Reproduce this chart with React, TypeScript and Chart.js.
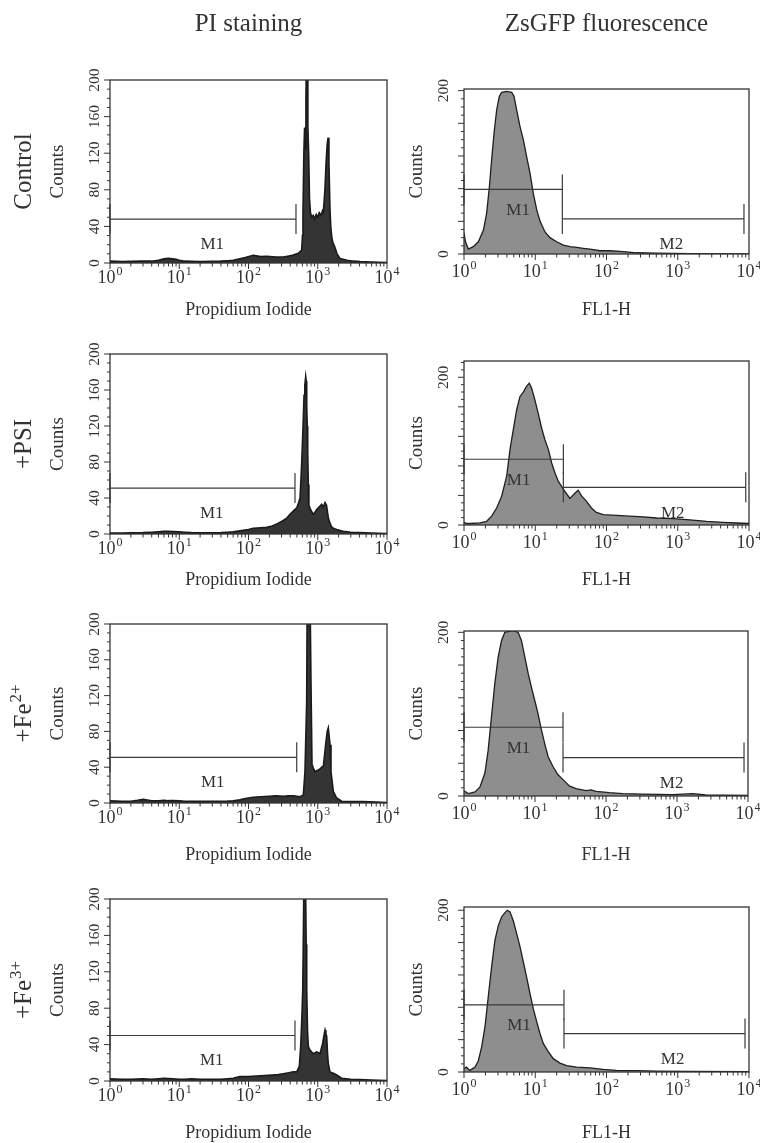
import React, { useEffect, useRef } from 'react';
import { Chart, registerables } from 'chart.js';

Chart.register(...registerables);

const FONT = '"Liberation Serif", "Times New Roman", serif';
const INK = '#333333';

// ---------- Data (channel value, counts) ----------
const piControlX = [1, 1.5, 2, 3, 4, 5, 6, 7, 8, 9, 10, 12, 15, 20, 30, 40, 50, 60, 75, 90, 117, 150, 183, 250, 318, 380, 444, 524, 586, 602, 612, 630, 645, 660, 675, 690, 705, 720, 740, 760, 785, 820, 860, 900, 950, 1000, 1050, 1110, 1170, 1203, 1270, 1320, 1370, 1410, 1450, 1500, 1540, 1600, 1660, 1775, 1900, 2094, 2645, 3300, 4074, 6000, 10000];
const piControlY = [2, 1.5, 1.8, 2, 2, 3, 4.5, 5, 4.5, 4, 3, 2, 1.8, 1.5, 1.8, 2, 2.5, 3, 4.7, 6, 8.4, 7, 7.3, 6.5, 6.6, 7.5, 8.7, 10.6, 14, 30, 55, 120, 148, 125, 180, 240, 240, 150, 118, 70, 55, 50, 52, 48, 53, 50, 55, 52, 57, 55, 80, 110, 130, 137, 110, 60, 40, 27, 22, 17, 10, 5, 3, 2, 1.5, 1, 0.5];

const piPsiX = [1, 1.5, 2, 3, 4, 5, 6, 7, 8, 10, 12, 15, 20, 30, 40, 50, 60, 75, 100, 117, 150, 183, 220, 255, 318, 360, 398, 450, 497, 530, 555, 580, 600, 620, 634, 650, 670, 682, 693, 705, 716, 730, 745, 780, 815, 860, 912, 960, 1018, 1080, 1139, 1200, 1274, 1340, 1420, 1500, 1586, 1700, 1880, 2100, 2335, 3000, 4000, 6000, 10000];
const piPsiY = [1, 1, 1.2, 1.5, 2, 2.5, 3, 3, 2.8, 2.5, 2, 1.5, 1.2, 1.2, 1.5, 2, 2.5, 3.7, 5, 6.3, 7, 7.4, 9, 11, 15, 18, 22, 26, 29, 35, 40, 70, 99, 130, 154, 165, 175, 170, 143, 120, 91, 55, 32, 28, 25, 22, 24, 27, 29, 31, 33, 30, 35, 32, 18, 12, 8, 6, 5, 4, 3, 2, 1.5, 1, 0.5];

const piFe2X = [1, 1.5, 2, 2.5, 3, 4, 5, 6, 7, 8, 10, 12, 15, 20, 30, 40, 50, 60, 75, 90, 117, 150, 200, 250, 318, 380, 444, 500, 555, 619, 654, 692, 705, 716, 745, 772, 798, 826, 863, 912, 965, 1020, 1077, 1140, 1203, 1260, 1316, 1370, 1420, 1460, 1503, 1553, 1678, 1875, 2217, 3000, 4500, 7000, 10000];
const piFe2Y = [2.5, 2, 2, 3, 4, 2.5, 2.5, 3, 2.6, 2.6, 2.5, 2, 1.8, 1.8, 2, 2, 2.2, 2.5, 3.5, 5, 6.5, 7, 7.5, 8, 7.4, 8, 8, 7.5, 7, 9, 35, 113, 240, 240, 240, 240, 136, 43, 39, 35, 36, 37, 38, 40, 41, 55, 69, 80, 84, 75, 65, 35, 13, 5.6, 2, 1.5, 1.5, 1, 0.5];

const piFe3X = [1, 1.5, 2, 3, 4, 5, 6, 8, 10, 12, 15, 20, 30, 40, 50, 60, 75, 100, 130, 170, 220, 270, 318, 380, 444, 497, 542, 567, 590, 607, 620, 634, 663, 680, 693, 712, 731, 772, 815, 863, 915, 965, 1020, 1077, 1175, 1230, 1274, 1310, 1346, 1385, 1420, 1503, 1678, 1875, 2217, 3000, 4000, 6000, 10000];
const piFe3Y = [2.5, 2, 2, 2.5, 2, 2.5, 3, 2.5, 2, 2, 2.5, 2, 2, 2, 2.5, 3, 4.8, 5, 5.5, 6, 6.5, 7, 8, 9, 10, 10, 16, 38, 70, 100, 160, 240, 240, 150, 100, 55, 38, 34, 32, 30, 31, 32, 31, 30, 41, 50, 56, 52, 49, 30, 19, 10, 8.5, 6.6, 3, 2, 1.5, 1, 0.5];

const gfpControlX = [1, 1.05, 1.15, 1.35, 1.59, 1.87, 2.08, 2.27, 2.44, 2.64, 2.87, 3.13, 3.38, 3.97, 4.67, 5.03, 5.49, 6.11, 6.8, 7.58, 8.44, 9.4, 10.5, 11.7, 13.7, 16.1, 20, 24.8, 30.7, 38.1, 47.3, 58.7, 81, 112, 172, 265, 507, 1480, 10000];
const gfpControlY = [26, 15, 6, 9, 15, 29, 50, 82, 115, 148, 176, 193, 198, 199, 198, 193, 176, 156, 140, 119, 99, 74, 54, 40, 27, 20, 15, 11, 9, 8, 7, 6, 4, 4, 3, 1.5, 1, 0.5, 0];

const gfpPsiX = [1, 1.1, 1.21, 1.68, 2.08, 2.44, 2.87, 3.38, 3.97, 4.42, 4.92, 5.49, 6.11, 6.8, 7.58, 8.25, 8.9, 9.9, 11.0, 12.3, 13.7, 15.3, 17.0, 19.0, 21.1, 23.5, 26.2, 30.7, 36, 40, 45, 52.5, 61.5, 72, 90, 138, 213, 330, 507, 870, 1480, 2540, 4350, 6770, 10000];
const gfpPsiY = [3.6, 2, 2, 3, 5, 12, 23, 39, 66, 102, 129, 156, 174, 180, 188, 192, 185, 169, 151, 131, 115, 102, 84, 70, 59, 52, 45, 36, 43, 47, 39, 32, 23, 17, 14, 13, 12, 11, 9.5, 8.5, 7, 5, 3.6, 2.7, 2];

const gfpFe2X = [1, 1.05, 1.15, 1.43, 1.68, 1.97, 2.19, 2.44, 2.72, 3.03, 3.38, 3.76, 4.19, 4.92, 5.78, 6.44, 7.18, 8.0, 8.9, 9.9, 11.0, 12.3, 13.7, 15.3, 17.9, 21.1, 24.8, 30.7, 38, 52.5, 62, 72, 112, 172, 330, 870, 1660, 2540, 10000];
const gfpFe2Y = [6.5, 5, 3, 5, 11, 28, 56, 97, 138, 170, 190, 200, 201, 202, 200, 190, 170, 150, 133, 117, 101, 81, 64, 48, 36, 26, 20, 12, 9, 6.5, 7.5, 5.7, 4, 3, 2.4, 1.6, 3, 1.2, 0.8];

const gfpFe3X = [1, 1.08, 1.21, 1.43, 1.59, 1.77, 1.97, 2.19, 2.44, 2.72, 3.03, 3.38, 3.76, 4.06, 4.42, 4.92, 5.49, 6.11, 6.8, 7.58, 8.44, 9.4, 10.5, 11.7, 13.0, 15.3, 17.9, 22.2, 27.6, 38, 58.7, 90, 138, 265, 507, 1480, 10000];
const gfpFe3Y = [4, 6, 2, 6, 14, 31, 56, 93, 130, 163, 181, 192, 197, 200, 198, 187, 171, 155, 136, 117, 97, 78, 62, 47, 35, 25, 16.5, 11, 8, 6, 5, 3.3, 2, 1.6, 1.2, 0.8, 0.4];

// Gates (marker label, from, to, counts level)
const piControlGates = [{ label: 'M1', from: 1, to: 485, level: 48 }];
const piPsiGates = [{ label: 'M1', from: 1, to: 469, level: 51 }];
const piFe2Gates = [{ label: 'M1', from: 1, to: 497, level: 51 }];
const piFe3Gates = [{ label: 'M1', from: 1, to: 469, level: 50 }];
const gfpControlGates = [{ label: 'M1', from: 1, to: 24, level: 79 }, { label: 'M2', from: 24, to: 8500, level: 43 }];
const gfpPsiGates = [{ label: 'M1', from: 1, to: 24.8, level: 89 }, { label: 'M2', from: 24.8, to: 9000, level: 51 }];
const gfpFe2Gates = [{ label: 'M1', from: 1, to: 24.8, level: 84 }, { label: 'M2', from: 24.8, to: 8790, level: 47 }];
const gfpFe3Gates = [{ label: 'M1', from: 1, to: 25.3, level: 83 }, { label: 'M2', from: 25.3, to: 8790, level: 47.5 }];

// Tick labels
const piYTicks = [0, 40, 80, 120, 160, 200];
const gfpYTicks = [0, 200];
const xTickExponents = [0, 1, 2, 3, 4];

const columnTitles = ['PI staining', 'ZsGFP fluorescence'];
const rowLabels = [
  { base: 'Control', sup: '' },
  { base: '+PSI', sup: '' },
  { base: '+Fe', sup: '2+' },
  { base: '+Fe', sup: '3+' },
];
const piAxisTitle = 'Propidium Iodide';
const gfpAxisTitle = 'FL1-H';
const yAxisTitle = 'Counts';

// ---------- Layout ----------
type Gate = { label: string; from: number; to: number; level: number };
type Box = { left: number; top: number; right: number; bottom: number };
type Rect = { left: number; top: number; width: number; height: number };
interface PanelSpec {
  kind: 'pi' | 'gfp';
  xs: number[];
  ys: number[];
  yMax: number;
  gates: Gate[];
  canvas: Rect;
  box: Box;
  titleY: number;
  row: number;
}

const rowCanvas = [
  { top: 0, height: 325 },
  { top: 325, height: 270 },
  { top: 595, height: 275 },
  { top: 870, height: 273 },
];
const piCanvasX = { left: 0, width: 400 };
const gfpCanvasX = { left: 392, width: 368 };

const panels: PanelSpec[] = [
  { kind: 'pi', xs: piControlX, ys: piControlY, yMax: 200, gates: piControlGates, row: 0, titleY: 310, box: { left: 110, top: 80, right: 387, bottom: 263 }, canvas: { ...piCanvasX, ...rowCanvas[0] } },
  { kind: 'gfp', xs: gfpControlX, ys: gfpControlY, yMax: 202, gates: gfpControlGates, row: 0, titleY: 310, box: { left: 464, top: 89, right: 749, bottom: 254 }, canvas: { ...gfpCanvasX, ...rowCanvas[0] } },
  { kind: 'pi', xs: piPsiX, ys: piPsiY, yMax: 200, gates: piPsiGates, row: 1, titleY: 580, box: { left: 110, top: 354, right: 387, bottom: 534 }, canvas: { ...piCanvasX, ...rowCanvas[1] } },
  { kind: 'gfp', xs: gfpPsiX, ys: gfpPsiY, yMax: 222, gates: gfpPsiGates, row: 1, titleY: 580, box: { left: 464, top: 361, right: 749, bottom: 525 }, canvas: { ...gfpCanvasX, ...rowCanvas[1] } },
  { kind: 'pi', xs: piFe2X, ys: piFe2Y, yMax: 200, gates: piFe2Gates, row: 2, titleY: 855, box: { left: 110, top: 624, right: 387, bottom: 803 }, canvas: { ...piCanvasX, ...rowCanvas[2] } },
  { kind: 'gfp', xs: gfpFe2X, ys: gfpFe2Y, yMax: 201.6, gates: gfpFe2Gates, row: 2, titleY: 855, box: { left: 464, top: 631, right: 748, bottom: 796 }, canvas: { ...gfpCanvasX, ...rowCanvas[2] } },
  { kind: 'pi', xs: piFe3X, ys: piFe3Y, yMax: 200, gates: piFe3Gates, row: 3, titleY: 1133, box: { left: 110, top: 899, right: 387, bottom: 1081 }, canvas: { ...piCanvasX, ...rowCanvas[3] } },
  { kind: 'gfp', xs: gfpFe3X, ys: gfpFe3Y, yMax: 204, gates: gfpFe3Gates, row: 3, titleY: 1133, box: { left: 464, top: 907, right: 749, bottom: 1072 }, canvas: { ...gfpCanvasX, ...rowCanvas[3] } },
];

// ---------- Drawing helpers ----------
function line(ctx: CanvasRenderingContext2D, x1: number, y1: number, x2: number, y2: number) {
  ctx.beginPath();
  ctx.moveTo(x1, y1);
  ctx.lineTo(x2, y2);
  ctx.stroke();
}

// Draws base + raised superscript centred on (x, baseline y)
function drawSup(ctx: CanvasRenderingContext2D, base: string, sup: string, x: number, y: number, size: number) {
  const supSize = Math.round(size * 0.66);
  ctx.font = `${size}px ${FONT}`;
  const wb = ctx.measureText(base).width;
  ctx.font = `${supSize}px ${FONT}`;
  const ws = sup ? ctx.measureText(sup).width + 1 : 0;
  const start = x - (wb + ws) / 2;
  ctx.textAlign = 'left';
  ctx.textBaseline = 'alphabetic';
  ctx.font = `${size}px ${FONT}`;
  ctx.fillText(base, start, y);
  if (sup) {
    ctx.font = `${supSize}px ${FONT}`;
    ctx.fillText(sup, start + wb + 1, y - size * 0.42);
  }
}

function makeAxesPlugin(spec: PanelSpec) {
  return {
    id: 'flowAxes',
    afterDraw(chart: any) {
      const ctx: CanvasRenderingContext2D = chart.ctx;
      const a = chart.chartArea;
      const xs = chart.scales.x;
      const ys = chart.scales.y;
      const ox = spec.canvas.left;
      const oy = spec.canvas.top;
      const isPi = spec.kind === 'pi';
      ctx.save();
      ctx.strokeStyle = INK;
      ctx.fillStyle = INK;

      // Gates
      ctx.lineWidth = 1.2;
      ctx.strokeStyle = '#3a3a3a';
      spec.gates.forEach((g) => {
        const x1 = xs.getPixelForValue(g.from);
        const x2 = xs.getPixelForValue(g.to);
        const py = ys.getPixelForValue(g.level);
        line(ctx, x1, py, x2, py);
        line(ctx, x1, py - 15, x1, py + 15);
        line(ctx, x2, py - 15, x2, py + 15);
        const isM2 = g.label === 'M2';
        const frac = isM2 ? 0.6 : 0.55;
        const off = isM2 ? 26 : isPi ? 25 : 21;
        ctx.font = `17px ${FONT}`;
        ctx.textAlign = 'center';
        ctx.textBaseline = 'middle';
        ctx.fillText(g.label, x1 + (x2 - x1) * frac, py + off);
      });

      // Frame
      ctx.strokeStyle = INK;
      ctx.lineWidth = 1.3;
      ctx.strokeRect(a.left, a.top, a.right - a.left, a.bottom - a.top);

      // X ticks (log)
      ctx.lineWidth = 1;
      for (let d = 0; d < 4; d++) {
        for (let m = 1; m <= 9; m++) {
          const px = xs.getPixelForValue(m * Math.pow(10, d));
          line(ctx, px, a.bottom, px, a.bottom + (m === 1 ? 6 : 3.5));
        }
      }
      const pEnd = xs.getPixelForValue(10000);
      line(ctx, pEnd, a.bottom, pEnd, a.bottom + 6);

      // X tick labels 10^n
      xTickExponents.forEach((e) => {
        const px = xs.getPixelForValue(Math.pow(10, e));
        drawSup(ctx, '10', String(e), px, a.bottom + (isPi ? 19.5 : 23), 18);
      });

      // Y ticks
      for (let v = 0; v <= spec.yMax + 0.01; v += 10) {
        const py = ys.getPixelForValue(v);
        line(ctx, a.left - (v % 40 === 0 ? 6 : 3), py, a.left, py);
      }

      // Y tick labels (rotated)
      const yLabels = isPi ? piYTicks : gfpYTicks;
      const lx = a.left - (isPi ? 15 : 20);
      yLabels.forEach((v) => {
        const py = ys.getPixelForValue(v);
        ctx.save();
        ctx.translate(lx, py);
        ctx.rotate(-Math.PI / 2);
        ctx.font = `${isPi ? 15.5 : 15.5}px ${FONT}`;
        ctx.textAlign = 'center';
        ctx.textBaseline = 'middle';
        ctx.fillText(String(v), 0, 0);
        ctx.restore();
      });

      // "Counts"
      const midY = (a.top + a.bottom) / 2;
      ctx.save();
      ctx.translate(a.left - (isPi ? 52 : 47), midY);
      ctx.rotate(-Math.PI / 2);
      ctx.font = `19px ${FONT}`;
      ctx.textAlign = 'center';
      ctx.textBaseline = 'middle';
      ctx.fillText(yAxisTitle, 0, 0);
      ctx.restore();

      // X axis title
      ctx.font = `18px ${FONT}`;
      ctx.textAlign = 'center';
      ctx.textBaseline = 'middle';
      ctx.fillText(isPi ? piAxisTitle : gfpAxisTitle, (a.left + a.right) / 2, spec.titleY - oy);

      // Row label (left column)
      if (isPi) {
        const rl = rowLabels[spec.row];
        ctx.save();
        ctx.translate(23 - ox + 8, midY);
        ctx.rotate(-Math.PI / 2);
        drawSup(ctx, rl.base, rl.sup, 0, 0, 25);
        ctx.restore();
      }

      // Column title (first row)
      if (spec.row === 0) {
        ctx.font = `25px ${FONT}`;
        ctx.textAlign = 'center';
        ctx.textBaseline = 'middle';
        ctx.fillText(columnTitles[isPi ? 0 : 1], (a.left + a.right) / 2, 24 - oy);
      }
      ctx.restore();
    },
  };
}

function Panel({ spec }: { spec: PanelSpec }) {
  const ref = useRef<HTMLCanvasElement>(null);
  const c = spec.canvas;
  useEffect(() => {
    const canvas = ref.current;
    if (!canvas) return;
    const b = spec.box;
    const isPi = spec.kind === 'pi';
    const chart = new Chart(canvas, {
      type: 'line',
      data: {
        datasets: [
          {
            data: spec.xs.map((x, i) => ({ x, y: spec.ys[i] })),
            fill: 'origin',
            backgroundColor: isPi ? '#343434' : '#8e8e8e',
            borderColor: isPi ? '#1a1a1a' : '#1f1f1f',
            borderWidth: isPi ? 1.6 : 1.3,
            pointRadius: 0,
            tension: 0,
            clip: 0,
          } as any,
        ],
      },
      options: {
        animation: false,
        responsive: false,
        devicePixelRatio: 1,
        events: [],
        layout: {
          padding: {
            left: b.left - c.left,
            top: b.top - c.top,
            right: c.left + c.width - b.right,
            bottom: c.top + c.height - b.bottom,
          },
        },
        plugins: { legend: { display: false }, tooltip: { enabled: false }, title: { display: false } },
        scales: {
          x: { type: 'logarithmic', min: 1, max: 10000, display: false },
          y: { type: 'linear', min: 0, max: spec.yMax, display: false },
        },
      } as any,
      plugins: [makeAxesPlugin(spec)],
    });
    return () => chart.destroy();
  }, []);
  return (
    <canvas
      ref={ref}
      width={c.width}
      height={c.height}
      style={{ position: 'absolute', left: c.left, top: c.top, width: c.width, height: c.height }}
    />
  );
}

export default function App() {
  return (
    <div style={{ position: 'absolute', left: 0, top: 0, width: 760, height: 1143, background: '#ffffff', overflow: 'hidden' }}>
      {panels.map((p, i) => (
        <Panel key={i} spec={p} />
      ))}
    </div>
  );
}
